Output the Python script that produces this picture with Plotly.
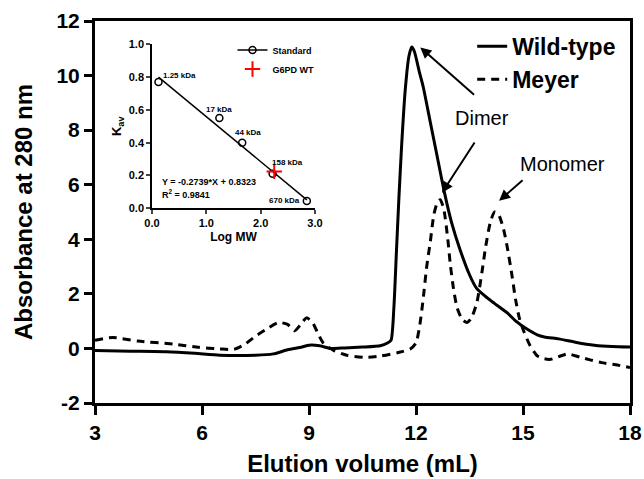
import plotly.graph_objects as go

# ---------------- data ----------------
wt_x = [3.0, 4.0, 5.0, 5.8, 6.5, 7.5, 8.0, 8.4, 8.8, 9.0, 9.3, 9.6, 10.0, 10.5, 11.0, 11.2,
        11.3, 11.38, 11.45, 11.52, 11.6, 11.7, 11.8, 11.88, 11.95, 12.1, 12.2, 12.4, 12.6,
        12.8, 13.0, 13.24, 13.5, 13.7, 14.0, 14.2, 14.56, 14.8, 15.1, 15.4, 15.6, 16.0,
        16.5, 17.0, 17.5, 18.0]
wt_y = [-0.08, -0.1, -0.12, -0.18, -0.25, -0.25, -0.2, -0.05, 0.05, 0.12, 0.1, 0.0, 0.02,
        0.05, 0.1, 0.2, 0.3, 1.5, 3.5, 5.5, 7.5, 9.5, 10.7, 11.05, 10.9, 10.1, 9.6, 8.3, 7.0,
        5.7, 4.6, 3.6, 2.7, 2.2, 1.85, 1.65, 1.3, 1.0, 0.72, 0.5, 0.42, 0.35, 0.22, 0.12,
        0.07, 0.05]

my_x = [3.0, 3.5, 4.2, 5.2, 5.9, 6.5, 6.9, 7.2, 7.5, 7.8, 8.15, 8.4, 8.6, 8.75, 8.93, 9.1,
        9.25, 9.4, 9.7, 10.06, 10.6, 11.0, 11.5, 11.84, 12.0, 12.1, 12.2, 12.3, 12.4, 12.5,
        12.6, 12.68, 12.78, 12.9, 12.96, 13.05, 13.15, 13.3, 13.43, 13.55, 13.71, 13.85,
        13.95, 14.08, 14.2, 14.3, 14.45, 14.56, 14.7, 14.79, 14.9, 15.03, 15.2, 15.4, 15.6,
        15.78, 16.0, 16.25, 16.62, 17.2, 17.6, 18.0]
my_y = [0.3, 0.4, 0.27, 0.16, 0.04, -0.02, -0.03, 0.15, 0.45, 0.7, 0.95, 0.88, 0.65, 0.85,
        1.12, 0.95, 0.55, 0.2, -0.08, -0.25, -0.33, -0.28, -0.15, -0.02, 0.2, 0.8, 1.8, 3.0,
        3.9, 4.9, 5.35, 5.45, 5.1, 3.9, 3.1, 2.2, 1.5, 1.05, 0.95, 1.1, 1.7, 2.8, 3.7, 4.6,
        5.0, 4.95, 4.4, 3.7, 2.6, 1.8, 1.1, 0.6, 0.1, -0.27, -0.38, -0.4, -0.3, -0.2, -0.33,
        -0.52, -0.6, -0.7]

x_ticks = [3, 6, 9, 12, 15, 18]
y_ticks = [-2, 0, 2, 4, 6, 8, 10, 12]
y_ticktext = ["-2", "0", "2", "4", "6", "8", "10", "12"]

# inset: calibration standards
std_logmw = [0.12, 1.24, 1.66, 2.22, 2.85]
std_kav = [0.77, 0.55, 0.40, 0.21, 0.045]
std_labels = ["1.25 kDa", "17 kDa", "44 kDa", "158 kDa", "670 kDa"]
g6pd_logmw = [2.25]
g6pd_kav = [0.225]
fit_slope = -0.2739
fit_intercept = 0.8323
fit_r2 = 0.9841
inset_xticks = [0, 1, 2, 3]
inset_yticks = [0, 0.2, 0.4, 0.6, 0.8, 1.0]

# arrows: (text, text x, text y, [(tail x, tail y, head x, head y), ...])
arrow_notes = [
    ("Dimer", 13.85, 8.43, [(13.67, 9.25, 12.12, 11.03), (13.67, 7.6, 12.73, 5.71)]),
    ("Monomer", 16.1, 6.77, [(15.03, 6.21, 14.33, 5.41)]),
]

FONT = "Arial, Liberation Sans, sans-serif"

fig = go.Figure()

fig.add_trace(go.Scatter(x=wt_x, y=wt_y, mode="lines", name="Wild-type",
                         line=dict(color="black", width=3, shape="spline", smoothing=0.6),
                         legend="legend"))
fig.add_trace(go.Scatter(x=my_x, y=my_y, mode="lines", name="Meyer",
                         line=dict(color="black", width=3, dash="8px,6px", shape="spline",
                                   smoothing=0.6),
                         legend="legend"))

# inset traces
fit_x = [std_logmw[0], std_logmw[-1]]
fit_y = [fit_slope * v + fit_intercept for v in fit_x]
fig.add_trace(go.Scatter(x=fit_x, y=fit_y, mode="lines", xaxis="x2", yaxis="y2",
                         line=dict(color="black", width=1.5), showlegend=False))
fig.add_trace(go.Scatter(x=std_logmw, y=std_kav, mode="markers", xaxis="x2", yaxis="y2",
                         marker=dict(symbol="circle-open", size=7, color="black",
                                     line=dict(width=1.5)),
                         showlegend=False))
fig.add_trace(go.Scatter(x=[None], y=[None], mode="lines+markers", name="Standard",
                         xaxis="x2", yaxis="y2",
                         line=dict(color="black", width=1.5),
                         marker=dict(symbol="circle-open", size=7, color="black",
                                     line=dict(width=1.5)),
                         legend="legend2"))
fig.add_trace(go.Scatter(x=g6pd_logmw, y=g6pd_kav, mode="markers", name="G6PD WT",
                         xaxis="x2", yaxis="y2",
                         marker=dict(symbol="cross-thin-open", size=11, color="red",
                                     line=dict(width=2, color="red")),
                         legend="legend2"))

annotations = []
# main annotations
for text, tx, ty, arrows in arrow_notes:
    annotations.append(dict(x=tx, y=ty, xref="x", yref="y", text=text, showarrow=False,
                            font=dict(family=FONT, size=20, color="black")))
    for (x0, y0, x1, y1) in arrows:
        annotations.append(dict(x=x1, y=y1, ax=x0, ay=y0, xref="x", yref="y",
                                axref="x", ayref="y", text="", showarrow=True,
                                arrowhead=2, arrowsize=1.1, arrowwidth=2,
                                arrowcolor="black"))

# inset standard labels (placed relative to each point)
label_pos = [
    dict(xanchor="left", xshift=3, yshift=7),
    dict(xanchor="center", xshift=0, yshift=9),
    dict(xanchor="center", xshift=6, yshift=10),
    dict(xanchor="center", xshift=15, yshift=11),
    dict(xanchor="right", xshift=-5, yshift=0),
]
for lx, ly, lt, lp in zip(std_logmw, std_kav, std_labels, label_pos):
    annotations.append(dict(x=lx, y=ly, xref="x2", yref="y2", text=lt, showarrow=False,
                            font=dict(family=FONT, size=8, color="black", weight="bold"),
                            **lp))
annotations.append(dict(x=0.15, y=0.158, xref="x2", yref="y2", xanchor="left",
                        text=f"Y = {fit_slope}*X + {fit_intercept}", showarrow=False,
                        font=dict(family=FONT, size=9, color="black", weight="bold")))
annotations.append(dict(x=0.15, y=0.085, xref="x2", yref="y2", xanchor="left",
                        text=f"R<sup>2</sup> = {fit_r2}", showarrow=False,
                        font=dict(family=FONT, size=9, color="black", weight="bold")))

fig.update_layout(
    width=644, height=479,
    margin=dict(l=95, r=14, t=21, b=76, pad=0, autoexpand=False),
    paper_bgcolor="white", plot_bgcolor="white",
    font=dict(family=FONT, color="black"),
    xaxis=dict(range=[3, 18], tickvals=x_ticks, showline=True, linewidth=3,
               linecolor="black", mirror=True, ticks="outside", ticklen=9, tickwidth=3,
               tickcolor="black", showgrid=False, zeroline=False,
               tickfont=dict(family=FONT, size=21, color="black", weight="bold"),
               title=dict(text="Elution volume (mL)", standoff=12,
                          font=dict(family=FONT, size=24, color="black", weight="bold"))),
    yaxis=dict(range=[-2, 12], tickvals=y_ticks, ticktext=y_ticktext, showline=True,
               linewidth=3, linecolor="black", mirror=True, ticks="outside", ticklen=8,
               tickwidth=3, tickcolor="black", showgrid=False, zeroline=False,
               tickfont=dict(family=FONT, size=21, color="black", weight="bold"),
               title=dict(text="Absorbance at 280 nm", standoff=18,
                          font=dict(family=FONT, size=24, color="black", weight="bold"))),
    xaxis2=dict(domain=[0.1065, 0.4112], anchor="y2", range=[0, 3],
                tickvals=inset_xticks, tickformat=".1f", showline=True, linewidth=1.5,
                linecolor="black", ticks="outside", ticklen=4, tickwidth=1.5,
                showgrid=False, zeroline=False,
                tickfont=dict(family=FONT, size=11, color="black", weight="bold"),
                title=dict(text="Log MW", standoff=4,
                           font=dict(family=FONT, size=12, color="black", weight="bold"))),
    yaxis2=dict(domain=[0.5097, 0.939], anchor="x2", range=[0, 1],
                tickvals=inset_yticks, tickformat=".1f", showline=True,
                linewidth=1.5, linecolor="black", ticks="outside", ticklen=4,
                tickwidth=1.5, showgrid=False, zeroline=False,
                tickfont=dict(family=FONT, size=11, color="black", weight="bold"),
                title=dict(text="K<sub>av</sub>", standoff=4,
                           font=dict(family=FONT, size=13, color="black", weight="bold"))),
    legend=dict(x=0.705, y=0.99, xanchor="left", yanchor="top", bgcolor="rgba(0,0,0,0)",
                font=dict(family=FONT, size=23, color="black", weight="bold"),
                itemwidth=30, tracegroupgap=0),
    legend2=dict(x=0.257, y=0.962, xanchor="left", yanchor="top", bgcolor="rgba(0,0,0,0)",
                 font=dict(family=FONT, size=9, color="black", weight="bold"),
                 itemwidth=30, tracegroupgap=0),
    annotations=annotations,
    showlegend=True,
)

# remove the default page margin so the 644x479 figure fills the window exactly
page_css = ("document.body.style.margin='0';"
            "document.documentElement.style.overflow='hidden';"
            "document.body.style.overflow='hidden';")
fig.write_html("out.html", post_script=page_css, config={"displayModeBar": False})
